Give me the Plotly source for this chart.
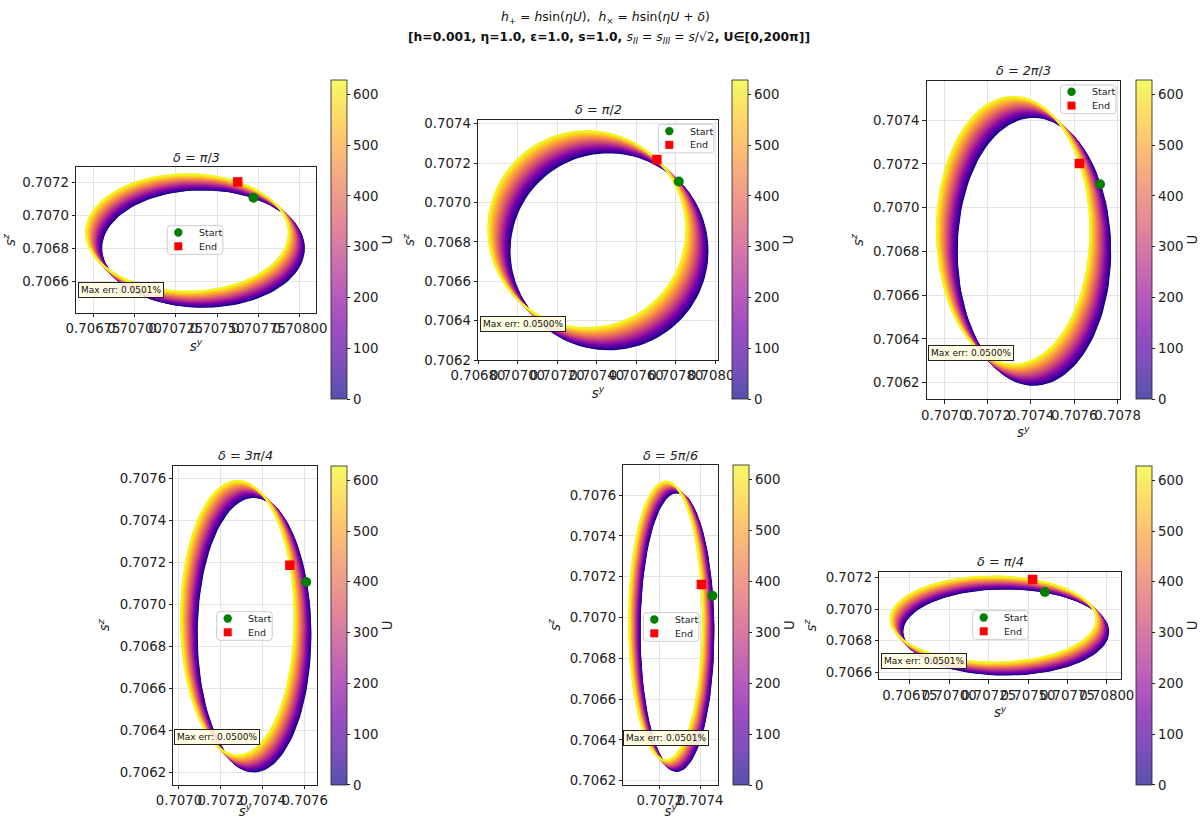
import numpy as np
import plotly.graph_objects as go
from plotly.colors import sample_colorscale, hex_to_rgb

# ---------------- data ----------------
DELTA_TITLES = ["π/3", "π/2", "2π/3", "3π/4", "5π/6", "π/4"]
START_SY = [0.707719, 0.707815, 0.707719, 0.707607, 0.707461, 0.707607]
START_SZ = [0.707107, 0.707107, 0.707107, 0.707107, 0.707107, 0.707107]
END_SY = [0.707624, 0.707704, 0.707624, 0.707529, 0.707406, 0.707529]
END_SZ = [0.707202, 0.707218, 0.707202, 0.707186, 0.707162, 0.707186]
CENTER0_SY = [0.707413, 0.707461, 0.707413, 0.707357, 0.707284, 0.707357]
CENTER0_SZ = [0.706801, 0.706753, 0.706801, 0.706857, 0.706930, 0.706857]
SEMI_SY = [0.000612, 0.000500, 0.000354, 0.000271, 0.000183, 0.000653]
SEMI_SZ = [0.000354, 0.000500, 0.000612, 0.000653, 0.000683, 0.000271]
MAX_ERR = ["0.0501%", "0.0500%", "0.0500%", "0.0500%", "0.0501%", "0.0501%"]
LEGEND_LABELS = ["Start", "End"]
U_MAX = 200 * np.pi
N_PERIODS = 100

X_TICKS = [
    [0.70675, 0.70700, 0.70725, 0.70750, 0.70775, 0.70800],
    [0.70680, 0.70700, 0.70720, 0.70740, 0.70760, 0.70780, 0.70800],
    [0.7070, 0.7072, 0.7074, 0.7076, 0.7078],
    [0.7070, 0.7072, 0.7074, 0.7076],
    [0.7072, 0.7074],
    [0.70675, 0.70700, 0.70725, 0.70750, 0.70775, 0.70800],
]
X_DEC = [5, 5, 4, 4, 4, 5]
Y_TICKS = [
    [0.7066, 0.7068, 0.7070, 0.7072],
    [0.7062, 0.7064, 0.7066, 0.7068, 0.7070, 0.7072, 0.7074],
    [0.7062, 0.7064, 0.7066, 0.7068, 0.7070, 0.7072, 0.7074],
    [0.7062, 0.7064, 0.7066, 0.7068, 0.7070, 0.7072, 0.7074, 0.7076],
    [0.7062, 0.7064, 0.7066, 0.7068, 0.7070, 0.7072, 0.7074, 0.7076],
    [0.7066, 0.7068, 0.7070, 0.7072],
]
X_RANGE = [[0.706647, 0.708097], [0.706800, 0.708013], [0.706919, 0.707811],
           [0.706973, 0.707657], [0.707019, 0.707490], [0.706556, 0.708090]]
Y_RANGE = [[0.706411, 0.707292], [0.706200, 0.707419], [0.706124, 0.707580],
           [0.706141, 0.707660], [0.706179, 0.707748], [0.706558, 0.707235]]
CB_TICKS = [0, 100, 200, 300, 400, 500, 600]

# ---------------- layout geometry (pixels) ----------------
W, H = 1202, 819
AX_BOX = [(76, 316, 167, 313), (478, 718, 120, 360), (926.7, 1120, 80.7, 399.3),
          (173.3, 316.7, 465.7, 785), (623.3, 718.3, 465, 785), (879.3, 1121, 571.7, 679.3)]
CB_BOX = [(331, 347, 80, 399), (732, 748, 80, 399), (1136, 1152, 80, 399),
          (331, 347, 465.7, 785), (733, 749, 465, 785), (1136, 1152, 465.7, 785)]
LEG_BOX = [(167.3, 225.7), (658.3, 124.3), (1060.5, 85), (216.7, 611.7),
           (643.3, 612.7), (972.7, 610.7)]
ERR_POS = [(78, 290.3), (479.5, 323.7), (928, 352.8), (174, 737.2), (623, 737.7), (881, 661.3)]

FONT = "DejaVu Sans"
PLASMA = ['#0d0887', '#46039f', '#7201a8', '#9c179e', '#bd3786',
          '#d8576b', '#ed7953', '#fb9f3a', '#fdca26', '#f0f921']
plasma_scale = [[i / (len(PLASMA) - 1), c] for i, c in enumerate(PLASMA)]


def washed(hx, a=0.7):
    r, g, b = hex_to_rgb(hx)
    return "rgb(%d,%d,%d)" % (round(a * r + (1 - a) * 255), round(a * g + (1 - a) * 255),
                              round(a * b + (1 - a) * 255))


cb_scale = [[i / (len(PLASMA) - 1), washed(c)] for i, c in enumerate(PLASMA)]


def px_x(p):
    return p / W


def px_y(p):
    return 1 - p / H


def rounded_rect(l, t, r, b, rad=3):
    pts = [("M", l + rad, t), ("L", r - rad, t), ("Q", r, t, r, t + rad), ("L", r, b - rad),
           ("Q", r, b, r - rad, b), ("L", l + rad, b), ("Q", l, b, l, b - rad),
           ("L", l, t + rad), ("Q", l, t, l + rad, t)]
    s = ""
    for p in pts:
        cmd, vals = p[0], p[1:]
        coords = []
        for j in range(0, len(vals), 2):
            coords.append(f"{px_x(vals[j]):.6f},{px_y(vals[j + 1]):.6f}")
        s += cmd + " ".join(coords) + " "
    return s + "Z"


fig = go.Figure()
N_CHUNKS = 50
PTS_PER_PERIOD = 120
U = np.linspace(0, U_MAX, N_PERIODS * PTS_PER_PERIOD + 1)

annotations = []
shapes = []
for i in range(6):
    ax = "" if i == 0 else str(i + 1)
    xa, ya = "x" + ax, "y" + ax
    ay, az = SEMI_SY[i], SEMI_SZ[i]
    phi = np.arctan2((START_SY[i] - CENTER0_SY[i]) / ay, (START_SZ[i] - CENTER0_SZ[i]) / az)
    frac = U / U_MAX
    cy = CENTER0_SY[i] + (END_SY[i] - START_SY[i]) * frac
    cz = CENTER0_SZ[i] + (END_SZ[i] - START_SZ[i]) * frac
    sy = cy + ay * np.sin(U + phi)
    sz = cz + az * np.cos(U + phi)
    n = len(U)
    edges = np.linspace(0, n - 1, N_CHUNKS + 1).astype(int)
    mids = [(U[edges[k]] + U[edges[k + 1]]) / 2 / U_MAX for k in range(N_CHUNKS)]
    cols = sample_colorscale(plasma_scale, mids)
    for k in range(N_CHUNKS):
        a, b = edges[k], edges[k + 1] + 1
        fig.add_trace(go.Scatter(
            x=np.round(sy[a:b], 8), y=np.round(sz[a:b], 8), mode="lines",
            line=dict(color=cols[k], width=1.6), xaxis=xa, yaxis=ya,
            showlegend=False, hoverinfo="skip"))
    # colorbar carrier
    L, R, T, B = CB_BOX[i]
    fig.add_trace(go.Scatter(
        x=[START_SY[i]], y=[START_SZ[i]], mode="markers", xaxis=xa, yaxis=ya,
        showlegend=False, hoverinfo="skip",
        marker=dict(size=0.1, color=[0], cmin=0, cmax=U_MAX, colorscale=cb_scale,
                    showscale=True,
                    colorbar=dict(thickness=R - L, thicknessmode="pixels",
                                  len=(B - T) / H, lenmode="fraction",
                                  x=px_x(L), xanchor="left", xpad=0,
                                  y=px_y((T + B) / 2), yanchor="middle", ypad=0,
                                  outlinewidth=0.8, outlinecolor="#222",
                                  ticks="outside", ticklen=3.5, tickwidth=0.8,
                                  tickcolor="#222", tickvals=CB_TICKS,
                                  tickfont=dict(family=FONT, size=13.3, color="#222"),
                                  title=dict(text="U", side="right",
                                             font=dict(family=FONT, size=13.3, color="#222"))))))
    fig.add_trace(go.Scatter(
        x=[START_SY[i]], y=[START_SZ[i]], mode="markers", name=LEGEND_LABELS[0],
        marker=dict(symbol="circle", size=10, color="green"),
        xaxis=xa, yaxis=ya, showlegend=False, hoverinfo="skip"))
    fig.add_trace(go.Scatter(
        x=[END_SY[i]], y=[END_SZ[i]], mode="markers", name=LEGEND_LABELS[1],
        marker=dict(symbol="square", size=9.5, color="red"),
        xaxis=xa, yaxis=ya, showlegend=False, hoverinfo="skip"))

    L, R, T, B = AX_BOX[i]
    common = dict(showline=True, mirror=True, linecolor="#222", linewidth=0.9,
                  ticks="outside", ticklen=3.5, tickwidth=0.8, tickcolor="#222",
                  showgrid=True, gridcolor="#e3e3e3", gridwidth=0.8, zeroline=False,
                  tickangle=0, automargin=False,
                  tickfont=dict(family=FONT, size=13.3, color="#222"))
    fig.layout["xaxis" + ax] = dict(
        domain=[px_x(L), px_x(R)], range=X_RANGE[i], anchor=ya,
        tickvals=X_TICKS[i], ticktext=[f"{v:.{X_DEC[i]}f}" for v in X_TICKS[i]],
        title=dict(text="<i>s</i><sup><i>y</i></sup>", standoff=0,
                   font=dict(family=FONT, size=13.3, color="#222")), **common)
    fig.layout["yaxis" + ax] = dict(
        domain=[px_y(B), px_y(T)], range=Y_RANGE[i], anchor=xa,
        tickvals=Y_TICKS[i], ticktext=[f"{v:.4f}" for v in Y_TICKS[i]],
        title=dict(text="<i>s</i><sup><i>z</i></sup>", standoff=6,
                   font=dict(family=FONT, size=13.3, color="#222")), **common)

    # legend box (Start / End)
    bl, bt = LEG_BOX[i]
    shapes.append(dict(type="path", xref="paper", yref="paper",
                       path=rounded_rect(bl, bt, bl + 55.5, bt + 28.6),
                       fillcolor="rgba(255,255,255,0.8)", line=dict(color="#cccccc", width=1),
                       layer="above"))
    mx, r = bl + 11, 4.2
    cy1, cy2 = bt + 6.8, bt + 20.6
    shapes.append(dict(type="circle", xref="paper", yref="paper",
                       x0=px_x(mx - r), x1=px_x(mx + r), y0=px_y(cy1 + r), y1=px_y(cy1 - r),
                       fillcolor="green", line=dict(width=0), layer="above"))
    shapes.append(dict(type="rect", xref="paper", yref="paper",
                       x0=px_x(mx - 4), x1=px_x(mx + 4), y0=px_y(cy2 + 4), y1=px_y(cy2 - 4),
                       fillcolor="red", line=dict(width=0), layer="above"))
    for lab, yy in zip(LEGEND_LABELS, (cy1, cy2)):
        annotations.append(dict(text=lab, x=px_x(bl + 29.4), y=px_y(yy), xref="paper",
                                yref="paper", showarrow=False, xanchor="left",
                                yanchor="middle",
                                font=dict(family=FONT, size=9.5, color="#222")))

    # subplot title
    annotations.append(dict(text=f"<i>δ</i> = <i>{DELTA_TITLES[i]}</i>".replace("π/", "π</i>/<i>"),
                            x=px_x((L + R) / 2), y=px_y(T - 10), xref="paper", yref="paper",
                            showarrow=False, xanchor="center", yanchor="middle",
                            font=dict(family=FONT, size=12.8, color="#222")))
    ex, ey = ERR_POS[i]
    annotations.append(dict(text=f"Max err: {MAX_ERR[i]}", x=px_x(ex), y=px_y(ey),
                            xref="paper", yref="paper", showarrow=False,
                            xanchor="left", yanchor="middle",
                            bgcolor="rgba(255,253,225,0.9)", bordercolor="#222",
                            borderwidth=1, borderpad=2,
                            font=dict(family=FONT, size=9, color="#111")))

annotations.append(dict(
    text="<i>h</i><sub>+</sub> = <i>h</i>sin(<i>ηU</i>),  <i>h</i><sub>×</sub> = <i>h</i>sin(<i>ηU</i> + <i>δ</i>)",
    x=px_x(605), y=px_y(17), xref="paper", yref="paper", showarrow=False,
    xanchor="center", yanchor="middle", font=dict(family=FONT, size=12.4, color="#111")))
annotations.append(dict(
    text="<b>[h=0.001, η=1.0, ε=1.0, s=1.0, </b><i>s</i><sub><i>II</i></sub> = <i>s</i><sub><i>III</i></sub> = <i>s</i>/√2<b>, U∈[0,200π]]</b>",
    x=px_x(609), y=px_y(38), xref="paper", yref="paper", showarrow=False,
    xanchor="center", yanchor="middle", font=dict(family=FONT, size=12.3, color="#111")))

fig.update_layout(width=W, height=H, margin=dict(l=0, r=0, t=0, b=0, autoexpand=False),
                  paper_bgcolor="white", plot_bgcolor="white", showlegend=False,
                  annotations=annotations, shapes=shapes,
                  font=dict(family=FONT, color="#222"))
fig.write_html("out.html", config={"displayModeBar": False},
               post_script="document.body.style.margin='0px';")
